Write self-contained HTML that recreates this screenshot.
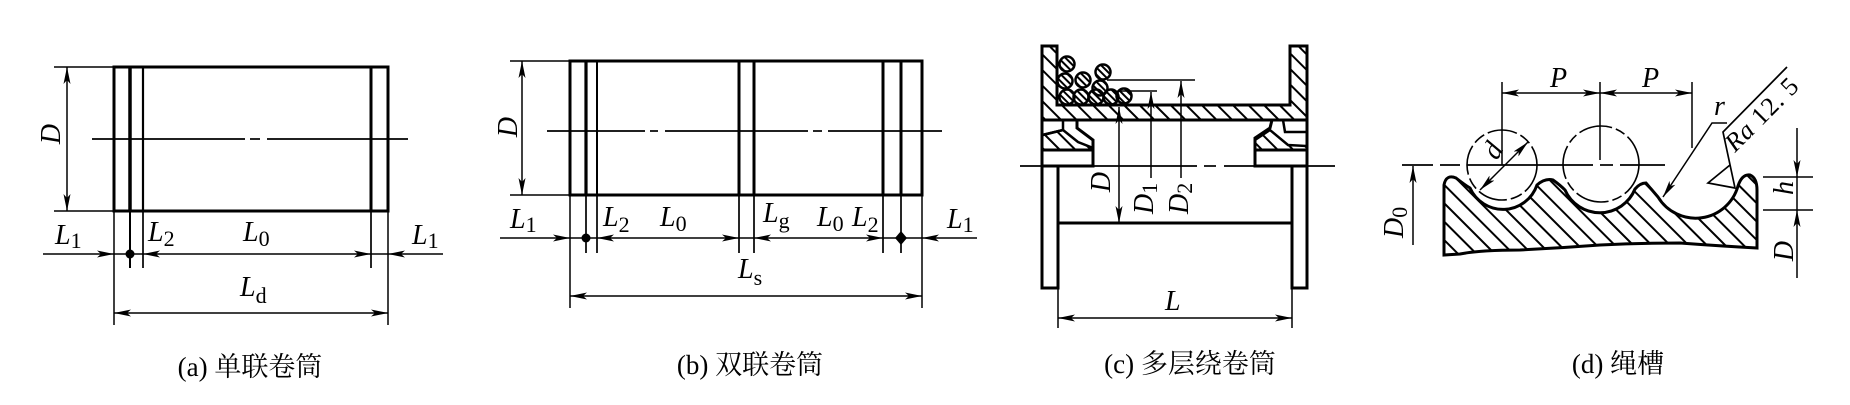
<!DOCTYPE html>
<html><head><meta charset="utf-8"><style>
html,body{margin:0;padding:0;background:#fff;}
svg{display:block;}
.t{stroke:#000;stroke-width:1.5;fill:none;}
.k{stroke:#000;stroke-width:3;fill:none;}
.lab{font-family:"Liberation Serif",serif;font-style:italic;font-size:28px;fill:#000;}
.sub{font-style:normal;font-size:22px;}
.cap{font-family:"Liberation Serif","Noto Serif CJK SC",serif;font-size:27px;fill:#000;}
</style></head><body>
<svg width="1850" height="405" viewBox="0 0 1850 405" xmlns="http://www.w3.org/2000/svg">
<defs>
<marker id="ar" viewBox="0 0 17 7" refX="17" refY="3.5" markerWidth="17" markerHeight="7" markerUnits="userSpaceOnUse" orient="auto-start-reverse"><path d="M0,0 L17,3.5 L0,7 L4,3.5 Z" fill="#000"/></marker>
<pattern id="h1" patternUnits="userSpaceOnUse" width="13" height="13" patternTransform="rotate(-45)"><line x1="6.5" y1="0" x2="6.5" y2="13" stroke="#000" stroke-width="2"/></pattern>
<pattern id="h2" patternUnits="userSpaceOnUse" width="11" height="11" patternTransform="rotate(-45)"><line x1="5.5" y1="0" x2="5.5" y2="11" stroke="#000" stroke-width="2"/></pattern>
<pattern id="h3" patternUnits="userSpaceOnUse" width="5" height="5" patternTransform="rotate(-45)"><line x1="2.5" y1="0" x2="2.5" y2="5" stroke="#000" stroke-width="2"/></pattern>
</defs>

<!-- ===== Panel (a) ===== -->
<rect x="114" y="67" width="274" height="144" class="k"/>
<line x1="130" y1="67" x2="130" y2="211" stroke="#000" stroke-width="3.5"/>
<line x1="143" y1="67" x2="143" y2="211" stroke="#000" stroke-width="2.2"/>
<line x1="371" y1="67" x2="371" y2="211" stroke="#000" stroke-width="3"/>
<line x1="130" y1="211" x2="130" y2="268" class="t" style="stroke-width:2"/>
<line x1="143" y1="211" x2="143" y2="268" class="t" style="stroke-width:1.7"/>
<line x1="371" y1="211" x2="371" y2="268" class="t" style="stroke-width:1.7"/>
<line x1="114" y1="211" x2="114" y2="325" class="t"/>
<line x1="388" y1="211" x2="388" y2="325" class="t"/>
<line x1="54" y1="67" x2="114" y2="67" class="t"/>
<line x1="54" y1="211" x2="114" y2="211" class="t"/>
<line x1="67" y1="67" x2="67" y2="211" class="t" marker-start="url(#ar)" marker-end="url(#ar)"/>
<line x1="92" y1="139" x2="245" y2="139" class="t" style="stroke-width:1.7"/>
<line x1="250" y1="139" x2="260" y2="139" class="t" style="stroke-width:1.7"/>
<line x1="267" y1="139" x2="408" y2="139" class="t" style="stroke-width:1.7"/>
<line x1="43" y1="254" x2="114" y2="254" class="t" marker-end="url(#ar)"/>
<line x1="114" y1="254" x2="143" y2="254" class="t"/>
<circle cx="130" cy="254" r="4.5" fill="#000"/>
<line x1="143" y1="254" x2="371" y2="254" class="t" marker-start="url(#ar)" marker-end="url(#ar)"/>
<line x1="371" y1="254" x2="388" y2="254" class="t"/>
<line x1="443" y1="254" x2="388" y2="254" class="t" marker-end="url(#ar)"/>
<line x1="114" y1="313" x2="388" y2="313" class="t" marker-start="url(#ar)" marker-end="url(#ar)"/>
<text class="lab" transform="translate(60,134) rotate(-90)" text-anchor="middle">D</text>
<text class="lab" x="55" y="244">L<tspan class="sub" dy="4">1</tspan></text>
<text class="lab" x="148" y="241">L<tspan class="sub" dy="5">2</tspan></text>
<text class="lab" x="243" y="241">L<tspan class="sub" dy="5">0</tspan></text>
<text class="lab" x="412" y="244">L<tspan class="sub" dy="4">1</tspan></text>
<text class="lab" x="240" y="296">L<tspan class="sub" dy="7">d</tspan></text>
<text class="cap" x="250" y="376" text-anchor="middle">(a) 单联卷筒</text>

<!-- ===== Panel (b) ===== -->
<rect x="570" y="61" width="352" height="134" class="k"/>
<line x1="586" y1="61" x2="586" y2="195" stroke="#000" stroke-width="3.2"/>
<line x1="597" y1="61" x2="597" y2="195" stroke="#000" stroke-width="2"/>
<line x1="739" y1="61" x2="739" y2="195" stroke="#000" stroke-width="3"/>
<line x1="754" y1="61" x2="754" y2="195" stroke="#000" stroke-width="3"/>
<line x1="883" y1="61" x2="883" y2="195" stroke="#000" stroke-width="3"/>
<line x1="901" y1="61" x2="901" y2="195" stroke="#000" stroke-width="3"/>
<g class="t" style="stroke-width:1.7">
<line x1="586" y1="195" x2="586" y2="253"/>
<line x1="597" y1="195" x2="597" y2="253"/>
<line x1="739" y1="195" x2="739" y2="253"/>
<line x1="754" y1="195" x2="754" y2="253"/>
<line x1="883" y1="195" x2="883" y2="253"/>
<line x1="901" y1="195" x2="901" y2="253"/>
</g>
<line x1="570" y1="195" x2="570" y2="308" class="t"/>
<line x1="922" y1="195" x2="922" y2="308" class="t"/>
<line x1="510" y1="61" x2="570" y2="61" class="t"/>
<line x1="510" y1="195" x2="570" y2="195" class="t"/>
<line x1="522" y1="61" x2="522" y2="195" class="t" marker-start="url(#ar)" marker-end="url(#ar)"/>
<g class="t" style="stroke-width:1.7">
<line x1="547" y1="131" x2="645" y2="131"/>
<line x1="650" y1="131" x2="658" y2="131"/>
<line x1="665" y1="131" x2="808" y2="131"/>
<line x1="813" y1="131" x2="822" y2="131"/>
<line x1="828" y1="131" x2="942" y2="131"/>
</g>
<line x1="500" y1="238" x2="570" y2="238" class="t" marker-end="url(#ar)"/>
<line x1="570" y1="238" x2="597" y2="238" class="t"/>
<circle cx="586" cy="238" r="4.5" fill="#000"/>
<line x1="597" y1="238" x2="739" y2="238" class="t" marker-start="url(#ar)" marker-end="url(#ar)"/>
<line x1="739" y1="238" x2="754" y2="238" class="t"/>
<line x1="754" y1="238" x2="883" y2="238" class="t" marker-start="url(#ar)" marker-end="url(#ar)"/>
<line x1="883" y1="238" x2="922" y2="238" class="t"/>
<polygon points="901,231 907,238 901,245 895,238" fill="#000"/>
<line x1="977" y1="238" x2="922" y2="238" class="t" marker-end="url(#ar)"/>
<line x1="570" y1="296" x2="922" y2="296" class="t" marker-start="url(#ar)" marker-end="url(#ar)"/>
<text class="lab" transform="translate(517,127) rotate(-90)" text-anchor="middle">D</text>
<text class="lab" x="510" y="228">L<tspan class="sub" dy="4">1</tspan></text>
<text class="lab" x="603" y="226">L<tspan class="sub" dy="6">2</tspan></text>
<text class="lab" x="660" y="226">L<tspan class="sub" dy="5">0</tspan></text>
<text class="lab" x="763" y="222">L<tspan class="sub" dy="6">g</tspan></text>
<text class="lab" x="817" y="226">L<tspan class="sub" dy="5">0</tspan></text>
<text class="lab" x="852" y="226">L<tspan class="sub" dy="6">2</tspan></text>
<text class="lab" x="947" y="228">L<tspan class="sub" dy="4">1</tspan></text>
<text class="lab" x="738" y="278">L<tspan class="sub" dy="7">s</tspan></text>
<text class="cap" x="750" y="374" text-anchor="middle">(b) 双联卷筒</text>

<!-- ===== Panel (c) ===== -->
<polygon points="1042,46 1057,46 1057,105 1290,105 1290,46 1307,46 1307,120 1042,120" fill="url(#h2)" stroke="#000" stroke-width="3"/>
<polygon points="1042,135 1063,130 1078,142 1093,148 1093,150 1042,150" fill="url(#h2)" stroke="#000" stroke-width="2.5"/>
<polyline points="1063,120 1063,130 1043,135" class="k" style="stroke-width:2.5"/>
<polyline points="1077,120 1077,128 1093,140 1093,166" class="k"/>
<rect x="1042" y="150" width="51" height="16" class="k"/>
<polygon points="1255,140 1270,130 1288,145 1307,146 1307,150 1255,150" fill="url(#h2)" stroke="#000" stroke-width="2.5"/>
<polyline points="1272,120 1270,128 1255,138 1255,166" class="k"/>
<polyline points="1283,120 1285,132 1307,132" class="k" style="stroke-width:2.5"/>
<rect x="1255" y="150" width="52" height="16" class="k"/>
<line x1="1042" y1="46" x2="1042" y2="166" class="k"/>
<line x1="1307" y1="46" x2="1307" y2="166" class="k"/>
<rect x="1042" y="166" width="16" height="122" class="k"/>
<rect x="1292" y="166" width="15" height="122" class="k"/>
<line x1="1058" y1="223" x2="1292" y2="223" class="k"/>
<g fill="#fff">
<circle cx="1067" cy="64" r="7.5"/><circle cx="1065" cy="81" r="7.5"/><circle cx="1067" cy="97" r="7.5"/>
<circle cx="1083" cy="80" r="7.5"/><circle cx="1081" cy="97" r="7.5"/><circle cx="1096" cy="97" r="7.5"/>
<circle cx="1103" cy="72" r="7.5"/><circle cx="1100" cy="88" r="7.5"/><circle cx="1111" cy="97" r="7.5"/><circle cx="1124" cy="96" r="7.5"/>
</g>
<g fill="url(#h3)" stroke="#000" stroke-width="2.5">
<circle cx="1067" cy="64" r="7.5"/><circle cx="1065" cy="81" r="7.5"/><circle cx="1067" cy="97" r="7.5"/>
<circle cx="1083" cy="80" r="7.5"/><circle cx="1081" cy="97" r="7.5"/><circle cx="1096" cy="97" r="7.5"/>
<circle cx="1103" cy="72" r="7.5"/><circle cx="1100" cy="88" r="7.5"/><circle cx="1111" cy="97" r="7.5"/><circle cx="1124" cy="96" r="7.5"/>
</g>
<g class="t" style="stroke-width:1.7">
<line x1="1020" y1="166" x2="1197" y2="166"/>
<line x1="1204" y1="166" x2="1216" y2="166"/>
<line x1="1224" y1="166" x2="1335" y2="166"/>
</g>
<line x1="1119" y1="107" x2="1119" y2="223" class="t" marker-start="url(#ar)" marker-end="url(#ar)"/>
<line x1="1120" y1="91" x2="1157" y2="91" class="t"/>
<line x1="1107" y1="80" x2="1195" y2="80" class="t"/>
<line x1="1151" y1="178" x2="1151" y2="92" class="t" marker-end="url(#ar)"/>
<line x1="1181" y1="178" x2="1181" y2="81" class="t" marker-end="url(#ar)"/>
<line x1="1058" y1="288" x2="1058" y2="328" class="t"/>
<line x1="1292" y1="288" x2="1292" y2="328" class="t"/>
<line x1="1058" y1="318" x2="1292" y2="318" class="t" marker-start="url(#ar)" marker-end="url(#ar)"/>
<text class="lab" transform="translate(1110,182) rotate(-90)" text-anchor="middle">D</text>
<text class="lab" transform="translate(1153,214) rotate(-90)">D<tspan class="sub" dy="4">1</tspan></text>
<text class="lab" transform="translate(1188,214) rotate(-90)">D<tspan class="sub" dy="4">2</tspan></text>
<text class="lab" x="1165" y="310">L</text>
<text class="cap" x="1190" y="373" text-anchor="middle">(c) 多层绕卷筒</text>

<!-- ===== Panel (d) ===== -->
<circle cx="1502" cy="165" r="35" fill="none" stroke="#000" stroke-width="1.6" stroke-dasharray="30 4 12 4"/>
<circle cx="1601" cy="164" r="38" fill="none" stroke="#000" stroke-width="1.6" stroke-dasharray="34 4 10 4"/>
<path d="M1444,255 L1444,185 Q1446,174 1456,178 Q1465,185 1470,188 A36,36 0 0 0 1537,185 Q1545,178 1553,180 Q1560,185 1565,190 A38,38 0 0 0 1635,189 Q1640,183 1646,183 Q1652,190 1658,197 A44,44 0 0 0 1738,186 Q1742,174 1750,175 Q1757,178 1757,190 L1757,248 Q1720,246 1680,243 Q1640,243 1600,245 Q1560,248 1520,250 Q1480,250 1460,254 Z" fill="url(#h1)" stroke="#000" stroke-width="3"/>
<g class="t" style="stroke-width:1.7">
<line x1="1402" y1="165" x2="1433" y2="165"/>
<line x1="1440" y1="165" x2="1460" y2="165"/>
<line x1="1467" y1="165" x2="1593" y2="165"/>
<line x1="1600" y1="165" x2="1613" y2="165"/>
<line x1="1620" y1="165" x2="1665" y2="165"/>
</g>
<line x1="1502" y1="82" x2="1502" y2="165" class="t"/>
<line x1="1600" y1="82" x2="1600" y2="160" class="t"/>
<line x1="1692" y1="82" x2="1692" y2="148" class="t"/>
<line x1="1502" y1="93" x2="1600" y2="93" class="t" marker-start="url(#ar)" marker-end="url(#ar)"/>
<line x1="1600" y1="93" x2="1692" y2="93" class="t" marker-start="url(#ar)" marker-end="url(#ar)"/>
<line x1="1480" y1="190" x2="1528" y2="142" class="t" marker-start="url(#ar)" marker-end="url(#ar)"/>
<line x1="1413" y1="245" x2="1413" y2="166" class="t" marker-end="url(#ar)"/>
<polyline points="1727,123 1712,123 1663,197" class="t" marker-end="url(#ar)"/>
<polyline points="1730,165 1708,183 1735,188 1723,132 1787,67" class="t" style="stroke-width:1.7"/>
<line x1="1763" y1="177" x2="1813" y2="177" class="t"/>
<line x1="1763" y1="210" x2="1813" y2="210" class="t"/>
<line x1="1797" y1="128" x2="1797" y2="177" class="t" marker-end="url(#ar)"/>
<line x1="1797" y1="177" x2="1797" y2="210" class="t"/>
<line x1="1797" y1="278" x2="1797" y2="210" class="t" marker-end="url(#ar)"/>
<text class="lab" x="1550" y="87">P</text>
<text class="lab" x="1642" y="87">P</text>
<text class="lab" transform="translate(1497,161) rotate(-60)">d</text>
<text class="lab" x="1714" y="115">r</text>
<text transform="translate(1735,153) rotate(-45)" font-family="Liberation Serif,serif" font-size="26" textLength="92" lengthAdjust="spacing"><tspan font-style="italic">Ra</tspan> 12. 5</text>
<text class="lab" transform="translate(1403,238) rotate(-90)">D<tspan class="sub" dy="4">0</tspan></text>
<text class="lab" transform="translate(1793,188) rotate(-90)" text-anchor="middle">h</text>
<text class="lab" transform="translate(1793,251) rotate(-90)" text-anchor="middle">D</text>
<text class="cap" x="1618" y="373" text-anchor="middle">(d) 绳槽</text>
</svg>
</body></html>
